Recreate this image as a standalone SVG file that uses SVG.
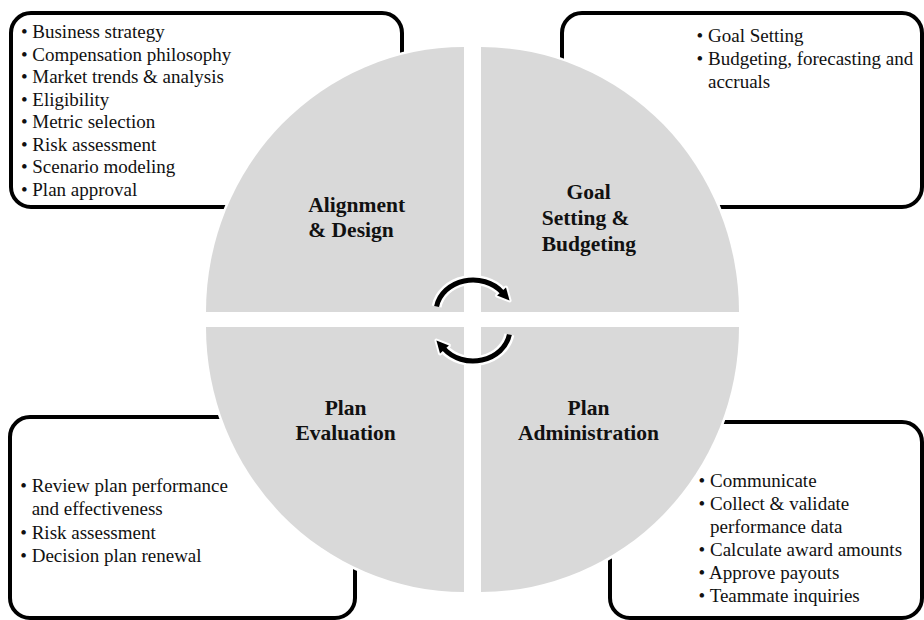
<svg xmlns="http://www.w3.org/2000/svg" width="924" height="620" viewBox="0 0 924 620">
<style>
.box{fill:#fff;stroke:#000;stroke-width:4}
.q{fill:#d9d9d9;stroke:#fff;stroke-width:5;paint-order:stroke}
.t{font-family:"Liberation Serif","Times New Roman",serif;font-size:19px;fill:#111}
.h{font-family:"Liberation Serif","Times New Roman",serif;font-size:21.5px;font-weight:bold;fill:#111}
.halo{fill:none;stroke:#fff;stroke-width:10;marker-end:url(#headHalo)}
.arc{fill:none;stroke:#000;stroke-width:5;marker-end:url(#head)}
</style>
<defs>
<marker id="head" markerUnits="userSpaceOnUse" markerWidth="16" markerHeight="16" refX="2" refY="8" orient="auto" overflow="visible">
<path d="M1,2 L13,8 L1,14 Z" fill="#000"/>
</marker>
<marker id="headHalo" markerUnits="userSpaceOnUse" markerWidth="16" markerHeight="16" refX="2" refY="8" orient="auto" overflow="visible">
<path d="M1,2 L13,8 L1,14 Z" fill="#fff" stroke="#fff" stroke-width="4" stroke-linejoin="round"/>
</marker>
</defs>
<rect width="924" height="620" fill="#fff"/>

<g id="box-alignment">
<rect class="box" x="11" y="13" width="391" height="194" rx="20"/>
<text class="t" x="20.9" y="38.3">• Business strategy</text>
<text class="t" x="20.9" y="60.8">• Compensation philosophy</text>
<text class="t" x="20.9" y="83.2">• Market trends &amp; analysis</text>
<text class="t" x="20.9" y="105.7">• Eligibility</text>
<text class="t" x="20.9" y="128.1">• Metric selection</text>
<text class="t" x="20.9" y="150.6">• Risk assessment</text>
<text class="t" x="20.9" y="173">• Scenario modeling</text>
<text class="t" x="20.9" y="195.5">• Plan approval</text>
</g>

<g id="box-goal">
<rect class="box" x="562" y="13" width="360" height="194" rx="20"/>
<text class="t" x="696.6" y="42">• Goal Setting</text>
<text class="t" x="696.6" y="65.3">• Budgeting, forecasting and</text>
<text class="t" x="708" y="88">accruals</text>
</g>

<g id="box-evaluation">
<rect class="box" x="10" y="417" width="345" height="201" rx="20"/>
<text class="t" x="20.3" y="491.5">• Review plan performance</text>
<text class="t" x="31.7" y="515">and effectiveness</text>
<text class="t" x="20.3" y="538.5">• Risk assessment</text>
<text class="t" x="20.3" y="562">• Decision plan renewal</text>
</g>

<g id="box-administration">
<rect class="box" x="610" y="422" width="312" height="196" rx="20"/>
<text class="t" x="698.6" y="486.5">• Communicate</text>
<text class="t" x="698.6" y="509.5">• Collect &amp; validate</text>
<text class="t" x="710" y="532.5">performance data</text>
<text class="t" x="698.6" y="555.5">• Calculate award amounts</text>
<text class="t" x="698.6" y="578.5">• Approve payouts</text>
<text class="t" x="698.6" y="601.5">• Teammate inquiries</text>
</g>

<g id="q-alignment">
<path class="q" d="M464,312 L206,312 A258,265 0 0 1 464,47 Z"/>
<text class="h" x="308.3" y="212">Alignment</text>
<text class="h" x="308.3" y="237">&amp; Design</text>
</g>

<g id="q-goal">
<path class="q" d="M481,312 L481,47 A258,265 0 0 1 739,312 Z"/>
<text class="h" x="566.5" y="199">Goal</text>
<text class="h" x="541.7" y="225">Setting &amp;</text>
<text class="h" x="541.7" y="251">Budgeting</text>
</g>

<g id="q-evaluation">
<path class="q" d="M464,327 L464,592 A258,265 0 0 1 206,327 Z"/>
<text class="h" x="345.6" y="414.5" text-anchor="middle">Plan</text>
<text class="h" x="345.6" y="439.5" text-anchor="middle">Evaluation</text>
</g>

<g id="q-administration">
<path class="q" d="M481,327 L739,327 A258,265 0 0 1 481,592 Z"/>
<text class="h" x="588.5" y="414.5" text-anchor="middle">Plan</text>
<text class="h" x="588.5" y="439.5" text-anchor="middle">Administration</text>
</g>

<g id="connectors">
<path class="halo" d="M436.6,306.4 A37,32 0 0 1 502.2,292.3"/>
<path class="halo" d="M509.4,334.6 A37,32 0 0 1 443.8,348.7"/>
<path class="arc" d="M436.6,306.4 A37,32 0 0 1 502.2,292.3"/>
<path class="arc" d="M509.4,334.6 A37,32 0 0 1 443.8,348.7"/>
</g>
</svg>
